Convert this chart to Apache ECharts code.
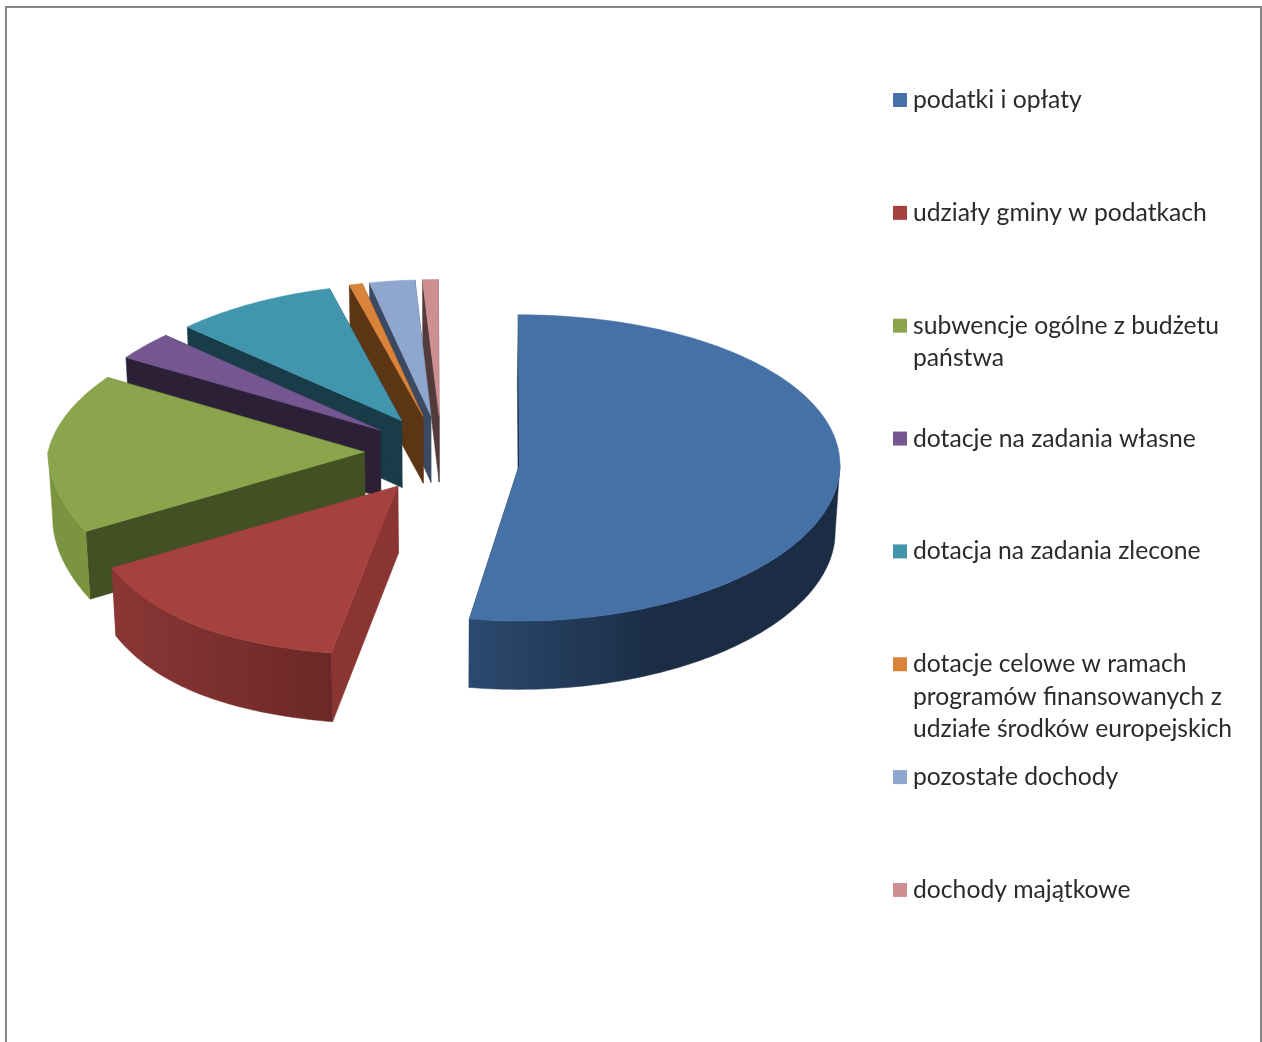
<!DOCTYPE html>
<html>
<head>
<meta charset="utf-8">
<style>html,body{margin:0;padding:0;background:#fff}#c{width:1262px;height:1042px}</style>
<script src="https://cdn.jsdelivr.net/npm/echarts@6/dist/echarts.min.js"></script>
</head>
<body>
<div id="c"></div>
<script>
// data (share of total, %)
const categories = ['podatki i opłaty','udziały gminy w podatkach','subwencje ogólne z budżetu państwa','dotacje na zadania własne','dotacja na zadania zlecone','dotacje celowe w ramach programów finansowanych z udziałe środków europejskich','pozostałe dochody','dochody majątkowe'];
const values = [52.55,14.15,16.8,3.2,9.05,0.75,2.6,0.9];
const legendLines = [['podatki i opłaty'],['udziały gminy w podatkach'],['subwencje ogólne z budżetu','państwa'],['dotacje na zadania własne'],['dotacja na zadania zlecone'],['dotacje celowe w ramach','programów finansowanych z','udziałe środków europejskich'],['pozostałe dochody'],['dochody majątkowe']];
// colours
const topColors = ['#4571a6','#a5423f','#8aa54b','#745690','#4196ae','#d9833b','#8fa6cf','#ce8f90'];
const cutColors = ['#1a2d46','#8a3532','#435023','#2c2036','#193c49','#5c3614','#3b4a60','#533a3b'];
const wallStops = [
  [[0,'#2b4a6f'],[0.5,'#1b2d45'],[1,'#1b2d45']],
  [[0,'#8a3735'],[1,'#6b2826']],
  [[0,'#7b9440'],[1,'#7b9440']],
  [[0,'#2c2036'],[1,'#2c2036']],
  [[0,'#193c49'],[1,'#193c49']],
  [[0,'#5c3614'],[1,'#5c3614']],
  [[0,'#3b4a60'],[1,'#3b4a60']],
  [[0,'#533a3b'],[1,'#533a3b']]
];
// layout of the projected pie
const L = {cx:441.5, cy:452, R:318, explode:77.5, kyR:153, pBack:0.09, pFront:0.11, xLeft:0.995, xRight:1.008, depth:67, bottomScale:0.988, startDeg:-0.2};
const sliceDy = [10,3,0,0,0,0,0,0];
const sliceQ = [0.02,0.075,0.075,0.075,0.075,0.075,0.075,0.075];
const paintOrder = [8,7,6,5,4,3,2,1];

const total = values.reduce((a,b)=>a+b,0);
const starts = []; { let acc = L.startDeg; values.forEach(v=>{starts.push(acc); acc += v/total*360;}); }
const rad = d=>d*Math.PI/180;

function project(X,Y,dy,q,bottom){
  const u = Y/L.R;
  // the left half narrows towards the back and widens towards the front
  const s = X>=0 ? L.xRight : L.xLeft*(u<0 ? 1+L.pBack*u : 1+L.pFront*u*u*u);
  const k = bottom ? L.bottomScale : 1;
  const x = L.cx + X*s*k;
  let y = L.cy + dy + L.kyR*(u + q*u*u);
  if(bottom){ y += L.depth*(1+0.02*u); }
  return [x,y];
}
function renderSlice(i, api){
  const v = api.value(0);
  const a0 = starts[i], a1 = a0 + v/total*360, mid = (a0+a1)/2;
  const ex = L.explode*Math.sin(rad(mid)), ey = -L.explode*Math.cos(rad(mid));
  const dy = sliceDy[i], q = sliceQ[i];
  const pt = (deg,r,b)=>project(ex+r*Math.sin(rad(deg)), ey-r*Math.cos(rad(deg)), dy, q, b);
  const tip = pt(0,0,false), tipB = pt(0,0,true);
  const arc = (from,to,b)=>{const n=Math.max(2,Math.ceil(Math.abs(to-from)));const o=[];for(let k=0;k<=n;k++){o.push(pt(from+(to-from)*k/n,L.R,b));}return o;};
  const children = [];
  const poly = (points,fill)=>children.push({type:'polygon',shape:{points},style:{fill,stroke:fill,lineWidth:0.5}});
  // cut faces
  poly([pt(a0,L.R,false),tip,tipB,pt(a0,L.R,true)],cutColors[i]);
  poly([pt(a1,L.R,false),tip,tipB,pt(a1,L.R,true)],cutColors[i]);
  // outer wall: the part of the rim that faces the viewer
  const w0 = Math.max(a0,90), w1 = Math.min(a1,270);
  if(w1>w0){
    const stops = wallStops[i].map(s=>({offset:s[0],color:s[1]}));
    const grad = new echarts.graphic.LinearGradient(0,0,1,0,stops);
    poly(arc(w0,w1,false).concat(arc(w1,w0,true)),grad);
  }
  // top face
  poly([tip].concat(arc(a0,a1,false)),topColors[i]);
  return {type:'group',children};
}
const series = categories.map((name,i)=>({
  type:'custom', name, coordinateSystem:'none', z:paintOrder[i], animation:false, silent:true,
  itemStyle:{color:topColors[i]},
  renderItem:(p,api)=>renderSlice(i,api),
  data:[[values[i]]]
}));
const rowFirst = 100, rowStep = 112.85, lineH = 32.5;
const legend = categories.map((name,i)=>{
  const n = legendLines[i].length;
  const blanks = new Array(n-1).fill('');
  return {
    data:[name], left:893, top:rowFirst+rowStep*i-((2*n-1)*lineH+3)/2, orient:'vertical', padding:0,
    icon:'rect', itemWidth:14, itemHeight:14, selectedMode:false,
    textStyle:{fontFamily:'Lato',fontSize:24.7,color:'#2b2b2b',lineHeight:lineH,padding:[3,0,0,1]},
    formatter:()=>blanks.concat(legendLines[i]).join('\n')
  };
});
const chart = echarts.init(document.getElementById('c'),null,{renderer:'canvas'});
chart.setOption({
  animation:false, backgroundColor:'#fff', legend, series,
  graphic:[{type:'rect',z:0,silent:true,shape:{x:6,y:7,width:1255,height:1100},style:{fill:'none',stroke:'#868686',lineWidth:2}}]
});
</script>
</body>
</html>
